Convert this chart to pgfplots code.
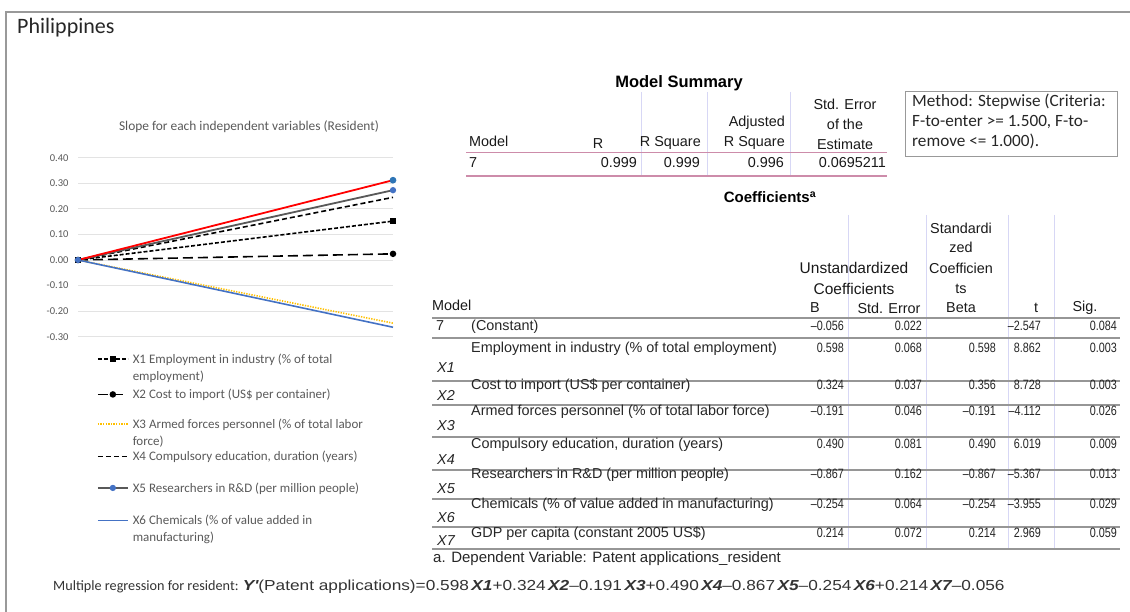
\documentclass[border=0pt]{standalone}
\usepackage{pgfplots}
\pgfplotsset{compat=1.18}
\usepackage{fontspec}
\setmainfont{Carlito}
\newfontfamily\tabfont{Liberation Sans}
\newfontfamily\condfont[FakeStretch=0.8]{Liberation Sans}
\newfontfamily\eqfont[FakeStretch=1.19]{Liberation Sans}
\definecolor{txtgray}{RGB}{89,89,89}
\definecolor{pinkline}{RGB}{205,140,170}
\definecolor{lav}{RGB}{215,215,245}
\definecolor{xlblue}{RGB}{68,114,196}
\definecolor{xlyellow}{RGB}{255,192,0}
\definecolor{xlred}{RGB}{255,0,0}
\definecolor{mkblue}{RGB}{46,117,182}
\definecolor{rowline}{RGB}{150,150,150}
\newcommand\crow[9]{%
 \node[anchor=mid west,tl] at (471,#1) {#4};
 \node[anchor=mid west,tx] at (437,#2) {#3};
 \node[anchor=mid east,tn] at (844,#1) {#5};
 \node[anchor=mid east,tn] at (922,#1) {#6};
 \node[anchor=mid east,tn] at (996,#1) {#7};
 \node[anchor=mid east,tn] at (1041,#1) {#8};
 \node[anchor=mid east,tn] at (1117,#1) {#9};}
\newcommand\twol[3]{\begin{tabular}[b]{@{}l@{}}\rule{0pt}{#1pt}#2\\#3\end{tabular}}
\newcommand\onel[2]{\rule{0pt}{#1pt}#2}
\begin{document}
\begin{tikzpicture}
\begin{scope}[x=1pt,y=-1pt,
  tl/.style={inner sep=0pt,font=\tabfont\fontsize{14.4}{16}\selectfont,text=black!85},
  tx/.style={inner sep=0pt,font=\tabfont\itshape\fontsize{14.4}{16}\selectfont,text=black!85},
  tn/.style={inner sep=0pt,font=\condfont\fontsize{13.5}{16}\selectfont,text=black!85},
  th/.style={inner sep=0pt,font=\tabfont\fontsize{14.4}{16}\selectfont,text=black!90}]
\useasboundingbox (0,0) rectangle (1130,612);
% frame
\draw[gray!80, line width=1.4pt] (1140,12) -- (6,12) -- (6,620);
\node[anchor=mid west,inner sep=0pt,font=\fontsize{22}{24}\selectfont,text=black!85] at (17,31) {Philippines};
% chart title
\node[inner sep=0pt,font=\fontsize{13.4}{15}\selectfont,text=txtgray] at (249,127) {Slope for each independent variables (Resident)};
\coordinate (axpos) at (78,336.7);
% ---------- Model Summary ----------
\node[inner sep=0pt,font=\tabfont\bfseries\fontsize{16.5}{18}\selectfont] at (679,83) {Model Summary};
\foreach \xx in {641,707,790}{\draw[lav,line width=0.6pt] (\xx,92) -- (\xx,176);}
\node[th,anchor=mid west] at (469,144) {Model};
\node[th] at (598,144) {R};
\node[th,anchor=mid east] at (701,144) {R Square};
\node[th,anchor=mid east] at (785,124) {Adjusted};
\node[th,anchor=mid east] at (785,144) {R Square};
\node[th] at (845,104) {Std. Error};
\node[th] at (845,124) {of the};
\node[th] at (845,144) {Estimate};
\draw[pinkline,line width=1.1pt] (466,152.5) -- (887,152.5);
\draw[pinkline,line width=1.1pt] (466,176) -- (887,176);
\node[th,anchor=mid west] at (469,165) {7};
\node[th,anchor=mid east] at (637,165) {0.999};
\node[th,anchor=mid east] at (700,165) {0.999};
\node[th,anchor=mid east] at (784,165) {0.996};
\node[th,anchor=mid east] at (886,165) {0.0695211};
% Method box
\draw[gray!80,line width=1pt] (905,92) rectangle (1117,157);
\node[anchor=mid west,inner sep=0pt,font=\fontsize{17.2}{18}\selectfont,text=black!85] at (912,104) {Method: Stepwise (Criteria:};
\node[anchor=mid west,inner sep=0pt,font=\fontsize{17.2}{18}\selectfont,text=black!85] at (912,124) {F-to-enter >= 1.500, F-to-};
\node[anchor=mid west,inner sep=0pt,font=\fontsize{17.2}{18}\selectfont,text=black!85] at (912,144) {remove <= 1.000).};
% ---------- Coefficients ----------
\node[inner sep=0pt,font=\tabfont\bfseries\fontsize{15}{17}\selectfont] at (770,197) {Coefficients\textsuperscript{a}};
\foreach \xx in {848,926,1008,1054}{\draw[lav,line width=0.6pt] (\xx,215) -- (\xx,549);}
\node[th] at (961,228) {Standardi};
\node[th] at (961,247) {zed};
\node[th] at (961,268) {Coefficien};
\node[th] at (961,289) {ts};
\node[th] at (961,308) {Beta};
\node[th,font=\tabfont\fontsize{15.5}{16}\selectfont] at (854,268) {Unstandardized};
\node[th,font=\tabfont\fontsize{15.5}{16}\selectfont] at (854,289) {Coefficients};
\node[th,anchor=mid west] at (432,308) {Model};
\node[th] at (815,308) {B};
\node[th] at (889,308) {Std. Error};
\node[th] at (1036,308) {t};
\node[th] at (1085,308) {Sig.};
\foreach \yy in {318,338,381,405,437,470,499,527,549}{\draw[rowline,line width=1.5pt] (432,\yy) -- (1120,\yy);}
\node[tl,anchor=mid west] at (436,328) {7};
\node[tl,anchor=mid west] at (471,328) {(Constant)};
\node[tn,anchor=mid east] at (844,328) {–0.056};
\node[tn,anchor=mid east] at (922,328) {0.022};
\node[tn,anchor=mid east] at (1041,328) {–2.547};
\node[tn,anchor=mid east] at (1117,328) {0.084};
\crow{350}{370}{X1}{Employment in industry (\% of total employment)}{0.598}{0.068}{0.598}{8.862}{0.003}
\crow{387}{398}{X2}{Cost to import (US\$ per container)}{0.324}{0.037}{0.356}{8.728}{0.003}
\crow{413}{428}{X3}{Armed forces personnel (\% of total labor force)}{–0.191}{0.046}{–0.191}{–4.112}{0.026}
\crow{446}{462}{X4}{Compulsory education, duration (years)}{0.490}{0.081}{0.490}{6.019}{0.009}
\crow{476}{491}{X5}{Researchers in R\&D (per million people)}{–0.867}{0.162}{–0.867}{–5.367}{0.013}
\crow{506}{520}{X6}{Chemicals (\% of value added in manufacturing)}{–0.254}{0.064}{–0.254}{–3.955}{0.029}
\crow{535}{543}{X7}{GDP per capita (constant 2005 US\$)}{0.214}{0.072}{0.214}{2.969}{0.059}
\node[anchor=mid west,inner sep=0pt,font=\tabfont\fontsize{15}{17}\selectfont,text=black!85] at (433,560) {a. Dependent Variable: Patent applications\_resident};
% equation
\node[anchor=mid west,inner sep=0pt,text=black!80] at (53,588) {{\fontsize{14.2}{16}\selectfont Multiple regression for resident: }{\eqfont\fontsize{14.5}{16}\selectfont\bfseries\itshape Y'}{\eqfont\fontsize{14.5}{16}\selectfont (Patent applications)=0.598\,{\bfseries\itshape X1}+0.324\,{\bfseries\itshape X2}–0.191\,{\bfseries\itshape X3}+0.490\,{\bfseries\itshape X4}–0.867\,{\bfseries\itshape X5}–0.254\,{\bfseries\itshape X6}+0.214\,{\bfseries\itshape X7}–0.056}};
\end{scope}
\begin{axis}[
  at={(axpos)}, anchor=south west,
  scale only axis, width=315pt, height=179pt,
  xmin=0, xmax=1, ymin=-0.30, ymax=0.40,
  xtick=\empty,
  ytick={-0.3,-0.2,-0.1,0,0.1,0.2,0.3,0.4},
  ymajorgrids, grid style={gray!22, line width=0.7pt},
  axis line style={draw=none},
  major tick length=0pt,
  clip=false,
  yticklabel style={font=\fontsize{10.5}{12}\selectfont, text=txtgray, xshift=-6pt,
    /pgf/number format/.cd, fixed, fixed zerofill, precision=2, assume math mode=true},
  legend image code/.code={\draw[mark repeat=2,mark phase=2,#1] plot coordinates {(0pt,4.5pt) (15pt,4.5pt) (30pt,4.5pt)};},
  legend style={at={(axis description cs:0.05,-0.07)}, anchor=north west, draw=none, fill=none,
    font=\fontsize{13}{17}\selectfont, text=txtgray, row sep=0pt, column sep=4pt,
    cells={anchor=base west}, nodes={inner sep=0pt}},
]
\addplot[black, line width=1.6pt, dash pattern=on 4pt off 2pt, mark=square*, mark size=2.2pt, mark options={solid}, legend image post style={yshift=17pt}] coordinates {(0,0) (1,0.152)};
\addlegendentry{\twol{12}{X1 Employment in industry (\% of total}{employment)}}
\addplot[black, line width=1.6pt, dash pattern=on 10pt off 5pt, mark=*, mark size=2.4pt, mark options={solid}] coordinates {(0,0) (1,0.024)};
\addlegendentry{\onel{17}{X2 Cost to import (US\$ per container)}}
\addplot[xlyellow, line width=1.6pt, dash pattern=on 1.3pt off 1.3pt, legend image post style={yshift=17pt}] coordinates {(0,0) (1,-0.247)};
\addlegendentry{\twol{28}{X3 Armed forces personnel (\% of total labor}{force)}}
\addplot[black, line width=1.6pt, dash pattern=on 5pt off 3pt] coordinates {(0,0) (1,0.245)};
\addlegendentry{\onel{14}{X4 Compulsory education, duration (years)}}
\addplot[black!65, line width=1.8pt, mark=*, mark size=2.2pt, mark options={fill=xlblue,draw=xlblue}] coordinates {(0,0) (1,0.273)};
\addlegendentry{\onel{30}{X5 Researchers in R\&D (per million people)}}
\addplot[xlblue, line width=1.6pt, legend image post style={yshift=17pt}] coordinates {(0,0) (1,-0.263)};
\addlegendentry{\twol{31}{X6 Chemicals (\% of value added in}{manufacturing)}}
\addplot[xlred, line width=1.8pt, mark=*, mark size=2.4pt, mark indices={2}, mark options={fill=mkblue,draw=mkblue}, forget plot] coordinates {(0,0) (1,0.312)};
\end{axis}
\end{tikzpicture}
\end{document}
